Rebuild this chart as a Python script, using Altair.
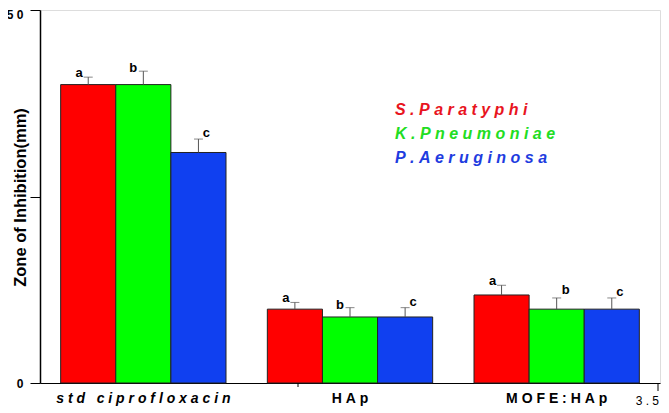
import altair as alt
import pandas as pd

categories = ["std ciprofloxacin", "HAp", "MOFE:HAp"]
series = ["S.Paratyphi", "K.Pneumoniae", "P.Aeruginosa"]
s_paratyphi = [40.0, 9.9, 11.8]
k_pneumoniae = [40.0, 8.85, 9.9]
p_aeruginosa = [30.9, 8.85, 9.9]
s_err = [1.0, 0.9, 1.3]
k_err = [1.8, 1.25, 1.5]
p_err = [1.8, 1.25, 1.5]
letters = ["a", "b", "c"]
bar_colors = ["#FF0000", "#00FF00", "#1040F0"]
legend_colors = ["#E8141E", "#22DD22", "#1E3CE0"]
y_ticks = [0, 25, 50]
x_end_label = "3.5"

NB = "\u00a0"


def spaced(s):
    return NB.join(s.replace(" ", NB))


rows = []
for si, (s, vals, errs) in enumerate(
    zip(series, [s_paratyphi, k_pneumoniae, p_aeruginosa], [s_err, k_err, p_err])
):
    for ci, c in enumerate(categories):
        rows.append({"category": c, "series": s, "value": vals[ci],
                     "top": vals[ci] + errs[ci], "letter": letters[si]})
df = pd.DataFrame(rows)

FONT = "Liberation Sans"

x_enc = alt.X(
    "category:N", sort=categories, title=None,
    scale=alt.Scale(paddingInner=0.2, paddingOuter=0.1),
    axis=alt.Axis(
        ticks=False, labelPadding=8, labelAngle=0, labelFontSize=14, labelLimit=0,
        labelFontWeight="bold", labelColor="black", labelFont=FONT,
        domainColor="black", domainWidth=1.2,
        labelFontStyle={"condition": {"test": "datum.value == 'std ciprofloxacin'", "value": "italic"}, "value": "normal"},
        labelExpr="join(split(replace(datum.label, ' ', '" + NB + "'), ''), '" + NB + "')",
    ),
)
x_plain = alt.X("category:N", sort=categories, title=None)
xo = alt.XOffset("series:N", sort=series, scale=alt.Scale(paddingInner=0, paddingOuter=0))

y_scale = alt.Scale(domain=[0, 50], nice=False)
y_enc = alt.Y(
    "value:Q", scale=y_scale, title="Zone of Inhibition(mm)",
    axis=alt.Axis(
        values=y_ticks, tickSize=10, tickColor="black", domainColor="black",
        domainWidth=1.5, labelFontSize=12, labelFontWeight="bold", labelColor="black",
        labelFont=FONT, labelPadding=7, grid=False,
        labelOffset={"condition": {"test": "datum.value == 50", "value": 4}, "value": 0},
        labelExpr="datum.value == 25 ? '' : join(split(datum.label, ''), '" + NB + "')",
        titleFont=FONT, titleFontSize=16.5, titleFontWeight="bold", titleColor="black",
        titleX=-20, titleY=187, titleAngle=-90, titleAlign="center", titleBaseline="middle",
    ),
)

base = alt.Chart(df)

bars = base.mark_bar(stroke="#222", strokeWidth=1).encode(
    x=x_enc, xOffset=xo, y=y_enc,
    color=alt.Color("series:N", sort=series, scale=alt.Scale(domain=series, range=bar_colors), legend=None),
)

err_rule = base.mark_rule(color="#555", strokeWidth=1).encode(
    x=x_plain, xOffset=xo, y=alt.Y("value:Q", scale=y_scale), y2="top:Q"
)
err_cap = base.mark_tick(color="#555", thickness=1, size=9, orient="horizontal").encode(
    x=x_plain, xOffset=xo, y=alt.Y("top:Q", scale=y_scale)
)

def letter_layer(filt, dx, dy):
    return base.transform_filter(filt).mark_text(
        dx=dx, dy=dy, baseline="alphabetic", align="center", fontSize=13,
        fontWeight="bold", font=FONT, color="black"
    ).encode(x=x_plain, xOffset=xo, y=alt.Y("top:Q", scale=y_scale), text="letter:N")

lt_red = letter_layer(f"datum.series == '{series[0]}'", -9, 0)
lt_green_l = letter_layer(f"datum.series == '{series[1]}' && datum.category != '{categories[2]}'", -10, 1)
lt_green_r = letter_layer(f"datum.series == '{series[1]}' && datum.category == '{categories[2]}'", 9, -4)
lt_blue = letter_layer(f"datum.series == '{series[2]}'", 8, -2)

legend_layers = []
for i, (s, col) in enumerate(zip(series, legend_colors)):
    legend_layers.append(
        alt.Chart(pd.DataFrame({"t": [spaced(s)]})).mark_text(
            align="left", baseline="alphabetic", fontSize=16, fontWeight="bold",
            fontStyle="italic", font=FONT, color=col
        ).encode(x=alt.value(355), y=alt.value(105 + 24 * i), text="t:N")
    )

dec = pd.DataFrame({"t": [spaced(x_end_label)]})
end_tick = alt.Chart(dec).mark_rule(color="black", strokeWidth=1).encode(
    x=alt.value(618), y=alt.value(373), y2=alt.value(381)
)
mid_tick = alt.Chart(dec).mark_rule(color="black", strokeWidth=1).encode(
    x=alt.value(258), y=alt.value(373), y2=alt.value(377)
)
end_label = alt.Chart(dec).mark_text(
    align="right", baseline="middle", fontSize=12, font=FONT, color="black"
).encode(x=alt.value(619), y=alt.value(391), text="t:N")

chart = alt.layer(
    bars, err_rule, err_cap, lt_red, lt_green_l, lt_green_r, lt_blue,
    *legend_layers, end_tick, mid_tick, end_label
).properties(
    width=620, height=373,
    autosize=alt.AutoSizeParams(type="none"),
    padding={"left": 32, "top": 2, "right": 1, "bottom": 27},
).configure_view(stroke="black", strokeWidth=1.2).configure(background="white")

chart.save("out.html", embed_options={"renderer": "svg", "actions": False})
